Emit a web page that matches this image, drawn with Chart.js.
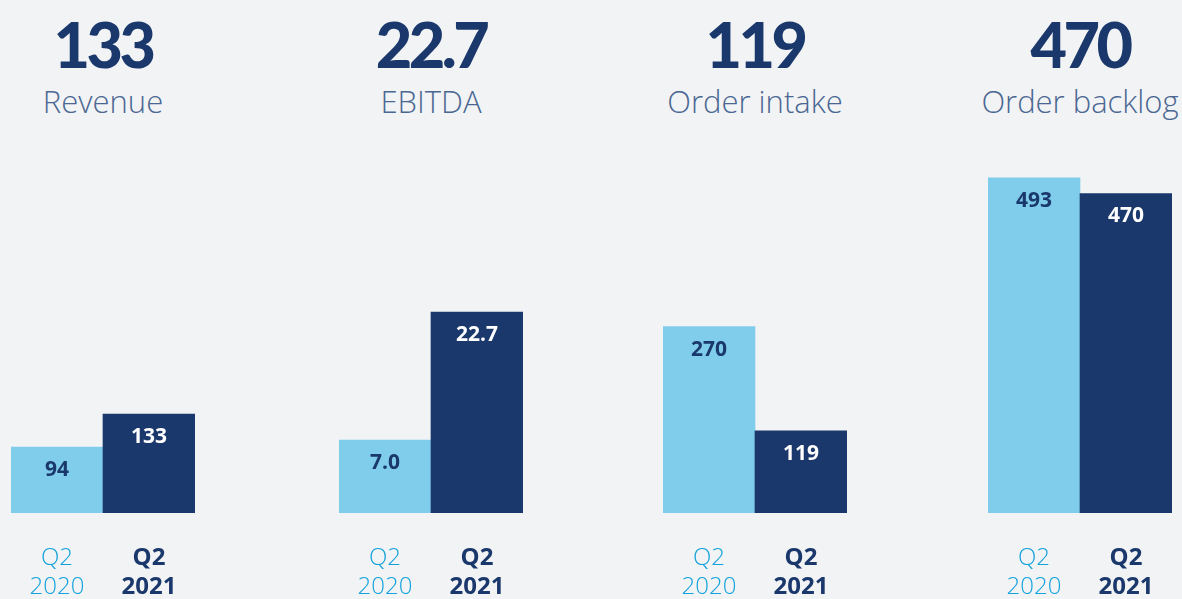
<!DOCTYPE html>
<html>
<head>
<meta charset="utf-8">
<script src="https://cdn.jsdelivr.net/npm/chart.js@4"></script>
<style>
  html, body { margin: 0; padding: 0; }
  body { width: 1182px; height: 599px; overflow: hidden; background: #f2f3f5; position: relative; font-family: "Open Sans", sans-serif; }
  .panel { position: absolute; top: 0; width: 184px; height: 599px; }
  .head { position: absolute; left: -100px; width: 384px; text-align: center; }
  .big { top: 4px; font-family: Lato, sans-serif; font-weight: 900; font-size: 63px; line-height: 80px; color: #1a386b; letter-spacing: -3.5px; }
  .name { top: 79px; font-weight: 300; font-size: 31px; line-height: 44px; color: #4a6792; }
  .box { position: absolute; left: 0; top: 150px; width: 184px; height: 449px; }
</style>
</head>
<body>
<script>
  const panelNames = ['Revenue', 'EBITDA', 'Order intake', 'Order backlog'];
  const periods = [['Q2', '2020'], ['Q2', '2021']];
  const q2_2020 = [94, 7.0, 270, 493];
  const q2_2021 = [133, 22.7, 119, 470];
  const decimals = [0, 1, 0, 0];
  // each panel has its own scale, like the original graphic
  const yMin = [16, -1.96, 0, 0];
  const yMax = [445, 42.6, 526, 534];
  const panelLeft = [11, 339, 663, 988];

  const lightBlue = '#7fcdea';
  const navy = '#1a386b';
  const tickBlue = '#14a2dc';

  const valueLabels = {
    id: 'valueLabels',
    afterDatasetsDraw(chart) {
      const c = chart.ctx;
      const meta = chart.getDatasetMeta(0);
      const ds = chart.data.datasets[0];
      c.save();
      c.font = 'bold 21px "Open Sans"';
      c.textAlign = 'center';
      c.textBaseline = 'middle';
      meta.data.forEach((bar, i) => {
        c.fillStyle = i === 0 ? navy : '#ffffff';
        c.fillText(ds.data[i].toFixed(ds.decimals), bar.x, bar.y + 23);
      });
      c.restore();
    }
  };

  panelNames.forEach((name, i) => {
    const panel = document.createElement('div');
    panel.className = 'panel';
    panel.style.left = panelLeft[i] + 'px';

    const big = document.createElement('div');
    big.className = 'head big';
    big.textContent = q2_2021[i].toFixed(decimals[i]);
    panel.appendChild(big);

    const lbl = document.createElement('div');
    lbl.className = 'head name';
    lbl.textContent = name;
    panel.appendChild(lbl);

    const box = document.createElement('div');
    box.className = 'box';
    const canvas = document.createElement('canvas');
    box.appendChild(canvas);
    panel.appendChild(box);
    document.body.appendChild(panel);

    new Chart(canvas.getContext('2d'), {
      type: 'bar',
      data: {
        labels: periods,
        datasets: [{
          data: [q2_2020[i], q2_2021[i]],
          decimals: decimals[i],
          backgroundColor: [lightBlue, navy],
          borderWidth: 0,
          base: yMin[i],
          categoryPercentage: 1,
          barPercentage: 1
        }]
      },
      options: {
        responsive: true,
        maintainAspectRatio: false,
        animation: false,
        layout: { padding: 0 },
        scales: {
          y: { display: false, min: yMin[i], max: yMax[i] },
          x: {
            grid: { display: false, drawTicks: false },
            border: { display: false },
            // fixed axis height, and no side padding so bars fill the panel
            afterFit: s => { s.height = 86; s.paddingLeft = 0; s.paddingRight = 0; },
            ticks: {
              padding: 31,
              color: [tickBlue, navy],
              font: c => ({
                family: '"Open Sans"',
                size: 24,
                weight: c.index === 1 ? 'bold' : '300',
                lineHeight: 1.2
              })
            }
          }
        },
        plugins: {
          legend: { display: false },
          tooltip: { enabled: false }
        }
      },
      plugins: [valueLabels]
    });
  });
</script>
</body>
</html>
